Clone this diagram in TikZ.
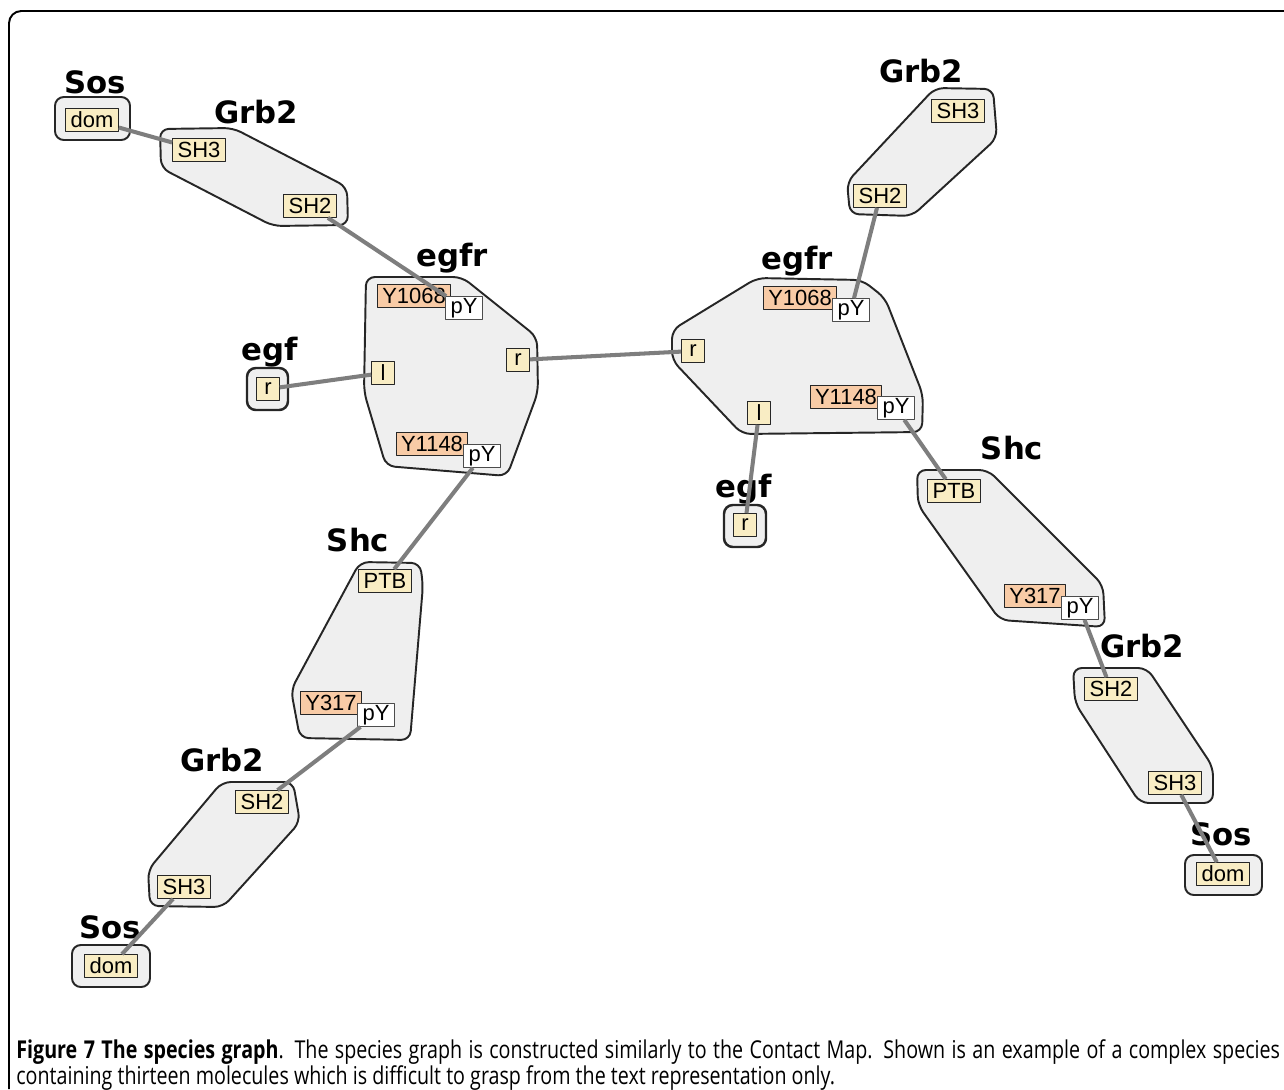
\documentclass[tikz,border=0pt]{standalone}
\usepackage{fontspec}
\setmainfont{Liberation Sans}
\newfontfamily\molfont{DejaVu Sans}
\newfontfamily\capfont[FakeStretch=0.8]{Open Sans}
\usetikzlibrary{positioning}

\definecolor{molfill}{HTML}{EFEFEF}
\definecolor{siteyel}{HTML}{F9EDC4}
\definecolor{siteorg}{HTML}{F8CBA6}
\definecolor{bondgray}{HTML}{7E7E7E}

\begin{document}
\begin{tikzpicture}[
            x = 0.02cm, % one unit = one pixel of the figure
            y = -0.02cm, % y grows downwards
            line join = round
        ]

        \tikzstyle{mol}=[
            draw = black!85,
            fill = molfill,
            line width = 1.1pt,
            rounded corners = 5pt
        ]
        \tikzstyle{molname}=[
            font = \molfont\fontsize{17.5}{20}\selectfont\bfseries,
            inner sep = 0pt
        ]
        \tikzstyle{site}=[
            draw = black!85,
            fill = siteyel,
            line width = 0.7pt,
            font = \fontsize{12.5}{14}\selectfont,
            inner xsep = 2.8pt,
            inner ysep = 0pt,
            minimum height = 0.45cm,
            minimum width = 0.45cm
        ]
        \tikzstyle{tyr}=[site, fill = siteorg]
        \tikzstyle{pystate}=[site, fill = white, draw = black!70]
        \tikzstyle{bond}=[draw = bondgray, line width = 2.3pt]

        \useasboundingbox (0,0) rectangle (1284,1089);
        \draw[line width = 1.1pt, rounded corners = 7pt] (9,1089) -- (9,11) -- (1284,11);

        % molecule outlines
        \draw[mol] (55,97) rectangle (130,140);
        \draw[mol] (160,129) -- (233,128) -- (347,187) -- (348,225) -- (273,226) -- (161,168) -- cycle;
        \draw[mol] (366,277) -- (462,277) -- (537,337) -- (538,392) -- (507,476) -- (386,466) -- (364,392) -- cycle;
        \draw[mol, line width = 1.4pt] (247,368) rectangle (288,410);
        \draw[mol] (757,278) -- (862,280) -- (885,298) -- (923,395) -- (922,432) -- (742,434) -- (672,360) -- (672,330) -- cycle;
        \draw[mol, line width = 1.4pt] (724,505) rectangle (766,547);
        \draw[mol] (935,88) -- (993,89) -- (997,138) -- (912,216) -- (850,214) -- (847,182) -- cycle;
        \draw[mol] (917,470) -- (988,470) -- (1103,585) -- (1105,627) -- (1000,620) -- (918,505) -- cycle;
        \draw[mol] (1073,668) -- (1147,668) -- (1213,767) -- (1213,803) -- (1140,803) -- (1075,703) -- cycle;
        \draw[mol] (1185,855) rectangle (1262,895);
        \draw[mol] (360,562) -- (420,563) -- (423,585) -- (410,740) -- (300,738) -- (291,690) -- cycle;
        \draw[mol] (222,782) -- (293,782) -- (300,822) -- (223,907) -- (150,906) -- (148,870) -- cycle;
        \draw[mol] (72,945) rectangle (150,987);

        % molecule names
        \node[molname] (sosA) at (95,82) {Sos};
        \node[molname] (grbA) at (256,112) {Grb2};
        \node[molname] (egfrA) at (452,258) {egfr};
        \node[molname] (egfA) at (270,352) {egf};
        \node[molname] (egfrB) at (797,261) {egfr};
        \node[molname] (egfB) at (744,489) {egf};
        \node[molname] (grbB) at (921,71) {Grb2};
        \node[molname] (shcB) at (1012,448) {Shc};
        \node[molname] (grbC) at (1142,646) {Grb2};
        \node[molname] (sosC) at (1221,834) {Sos};
        \node[molname] (shcA) at (358,540) {Shc};
        \node[molname] (grbD) at (222,760) {Grb2};
        \node[molname] (sosD) at (110,927) {Sos};

        % sites
        \node[site] (domA) at (92,120) {dom};
        \node[site] (sh3A) at (199,150) {SH3};
        \node[site] (sh2A) at (310,206) {SH2};
        \node[tyr] (y1068A) at (414,296) {Y1068};
        \node[pystate] (py1A) at (464,308) {pY};
        \node[site] (lA) at (383,373) {l};
        \node[site] (rA) at (518,360) {r};
        \node[tyr] (y1148A) at (432,444) {Y1148};
        \node[pystate] (py2A) at (482,456) {pY};
        \node[site] (rEgfA) at (268,389) {r};
        \node[tyr] (y1068B) at (800,298) {Y1068};
        \node[pystate] (py1B) at (851,310) {pY};
        \node[site] (rB) at (693,351) {r};
        \node[tyr] (y1148B) at (846,397) {Y1148};
        \node[pystate] (py2B) at (896,408) {pY};
        \node[site] (lB) at (759,413) {l};
        \node[site] (rEgfB) at (745,525) {r};
        \node[site] (sh3B) at (958,111) {SH3};
        \node[site] (sh2B) at (880,196) {SH2};
        \node[site] (ptbB) at (954,491) {PTB};
        \node[tyr] (y317B) at (1035,596) {Y317};
        \node[pystate] (pyShcB) at (1080,608) {pY};
        \node[site] (sh2C) at (1111,689) {SH2};
        \node[site] (sh3C) at (1175,783) {SH3};
        \node[site] (domC) at (1223,874) {dom};
        \node[site] (ptbA) at (385,581) {PTB};
        \node[tyr] (y317A) at (331,703) {Y317};
        \node[pystate] (pyShcA) at (376,715) {pY};
        \node[site] (sh2D) at (262,802) {SH2};
        \node[site] (sh3D) at (184,887) {SH3};
        \node[site] (domD) at (111,966) {dom};

        % bonds
        \draw[bond] (domA) -- (sh3A);
        \draw[bond] (sh2A) -- (py1A);
        \draw[bond] (rEgfA) -- (lA);
        \draw[bond] (rA) -- (rB);
        \draw[bond] (py2A) -- (ptbA);
        \draw[bond] (pyShcA) -- (sh2D);
        \draw[bond] (sh3D) -- (domD);
        \draw[bond] (sh2B) -- (py1B);
        \draw[bond] (lB) -- (rEgfB);
        \draw[bond] (py2B) -- (ptbB);
        \draw[bond] (pyShcB) -- (sh2C);
        \draw[bond] (sh3C) -- (domC);

        \node[anchor = north west, inner sep = 0pt, text width = 25.28cm, align = justify,
              font = \capfont\fontsize{14}{14.7}\selectfont] (caption) at (16,1039)
            {\textbf{Figure 7 The species graph}. The species graph is constructed similarly to the Contact Map. Shown is an example of a complex species containing thirteen molecules which is difficult to grasp from the text representation only.};

    \end{tikzpicture}
\end{document}
